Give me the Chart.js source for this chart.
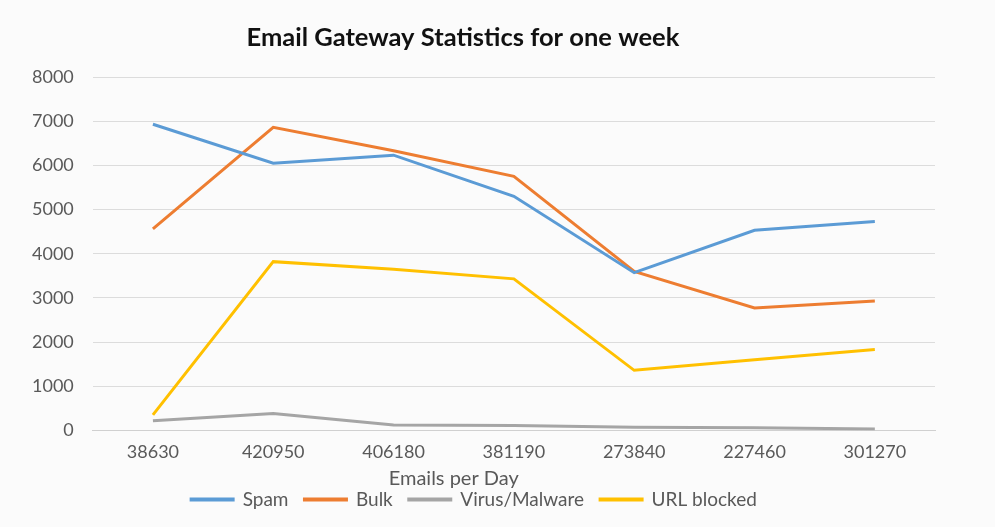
<!DOCTYPE html>
<html>
<head>
<meta charset="utf-8">
<script src="https://cdn.jsdelivr.net/npm/chart.js@4"></script>
<style>
  html, body { margin: 0; padding: 0; background: #fbfbfb; }
  #wrap { width: 995px; height: 527px; }
</style>
</head>
<body>
<div id="wrap"><canvas id="chart"></canvas></div>
<script>
const days = ["38630", "420950", "406180", "381190", "273840", "227460", "301270"];
const spam = [6930, 6050, 6230, 5300, 3570, 4530, 4730];
const bulk = [4560, 6860, 6330, 5750, 3600, 2770, 2930];
const virus = [220, 380, 120, 110, 70, 60, 30];
const urlBlocked = [350, 3820, 3650, 3430, 1360, 1600, 1830];

const chartTitle = "Email Gateway Statistics for one week";
const xTitle = "Emails per Day";

const FONT = "Lato, 'Open Sans', sans-serif";
const GREY = "#595959";

function series(label, data, color) {
  return {
    label, data,
    borderColor: color, backgroundColor: color,
    borderWidth: 3, pointRadius: 0, tension: 0
  };
}

// title + axis title sit off-centre in the original, so draw them ourselves
const titles = {
  id: "titles",
  afterDraw(chart) {
    const { ctx, chartArea, scales } = chart;
    ctx.save();
    ctx.textAlign = "center";
    ctx.textBaseline = "middle";
    ctx.fillStyle = "#111";
    ctx.font = "bold 25.5px " + FONT;
    ctx.fillText(chartTitle, (chartArea.left + chartArea.right) / 2 - 51, chartArea.top - 39);
    const x = scales.x;
    ctx.fillStyle = GREY;
    ctx.font = "20px " + FONT;
    ctx.fillText(xTitle, (x.getPixelForValue(2) + x.getPixelForValue(3)) / 2, chartArea.bottom + 48);
    ctx.restore();
  }
};

new Chart(document.getElementById("chart"), {
  type: "line",
  data: {
    labels: days,
    datasets: [
      series("Spam", spam, "#5b9bd5"),
      series("Bulk", bulk, "#ed7d31"),
      series("Virus/Malware", virus, "#a5a5a5"),
      series("URL blocked", urlBlocked, "#ffc000")
    ]
  },
  plugins: [titles],
  options: {
    responsive: true,
    maintainAspectRatio: false,
    animation: false,
    layout: { padding: { left: 13, right: 60, top: 77, bottom: 8 } },
    plugins: {
      title: { display: false },
      legend: {
        position: "bottom",
        labels: {
          color: GREY,
          font: { family: FONT, size: 19 },
          boxWidth: 42, boxHeight: 1, padding: 16
        }
      },
      tooltip: { enabled: false }
    },
    scales: {
      x: {
        offset: true,
        grid: { display: false, drawTicks: false },
        border: { color: "#d0d0d0" },
        ticks: { color: GREY, font: { family: FONT, size: 18 }, padding: 11, maxRotation: 0 }
      },
      y: {
        min: 0, max: 8000,
        ticks: {
          stepSize: 1000, color: GREY, font: { family: FONT, size: 18 }, padding: 19,
          callback: v => String(v)
        },
        grid: { color: "#dcdcdc", drawTicks: false },
        border: { display: false }
      }
    }
  }
});
</script>
</body>
</html>
